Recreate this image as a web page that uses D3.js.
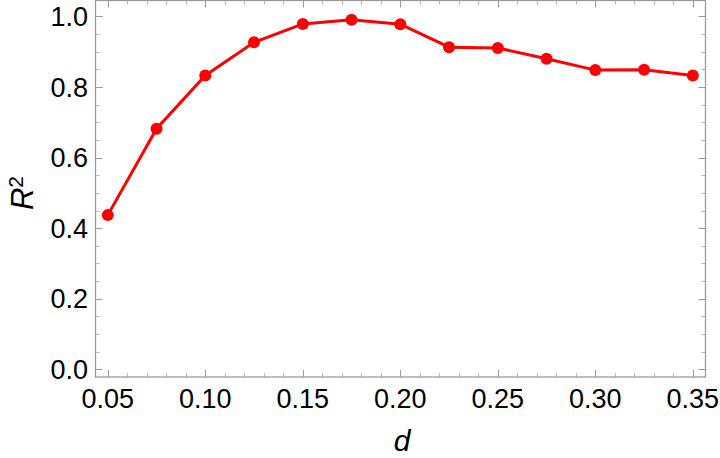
<!DOCTYPE html>
<html>
<head>
<meta charset="utf-8">
<script src="https://cdn.jsdelivr.net/npm/d3@7"></script>
<style>
  body { margin: 0; background: #fff; }
  svg { display: block; font-family: "Liberation Sans", Arial, sans-serif; }
</style>
</head>
<body>
<div id="chart"></div>
<script>
// data
var dValues = [0.05, 0.075, 0.10, 0.125, 0.15, 0.175, 0.20, 0.225, 0.25, 0.275, 0.30, 0.325, 0.35];
var r2Values = [0.437, 0.682, 0.833, 0.927, 0.979, 0.991, 0.978, 0.913, 0.911, 0.880, 0.848, 0.849, 0.833];
var xTicks = [0.05, 0.10, 0.15, 0.20, 0.25, 0.30, 0.35];
var yTicks = [0.0, 0.2, 0.4, 0.6, 0.8, 1.0];

var width = 720, height = 458;
// plot box (note: "top" is a reserved window global, so use prefixed names)
var plotLeft = 95.5, plotRight = 705.5, plotTop = 0.5, plotBottom = 377;

var svg = d3.select("#chart").append("svg")
  .attr("width", width)
  .attr("height", height);

var x = d3.scaleLinear().domain([0.0437, 0.3565]).range([plotLeft, plotRight]);
var y = d3.scaleLinear().domain([-0.0218, 1.0453]).range([plotBottom, plotTop]);

var frameColor = "#9a9a9a";

// minor ticks
var xMinor = d3.range(0.04, 0.36, 0.01).filter(function(v) {
  return v > 0.0437 && v < 0.3565;
});
var yMinor = d3.range(0, 1.05, 0.05);

var tickG = svg.append("g").attr("stroke", frameColor).attr("stroke-width", 1);

function xTickMarks(vals, len, col) {
  vals.forEach(function(v) {
    var px = Math.round(x(v)) + 0.5;
    tickG.append("line").attr("x1", px).attr("x2", px)
      .attr("y1", plotBottom).attr("y2", plotBottom - len).attr("stroke", col);
    tickG.append("line").attr("x1", px).attr("x2", px)
      .attr("y1", plotTop).attr("y2", plotTop + len).attr("stroke", col);
  });
}
function yTickMarks(vals, len, col) {
  vals.forEach(function(v) {
    var py = Math.round(y(v)) + 0.5;
    tickG.append("line").attr("y1", py).attr("y2", py)
      .attr("x1", plotLeft).attr("x2", plotLeft + len).attr("stroke", col);
    tickG.append("line").attr("y1", py).attr("y2", py)
      .attr("x1", plotRight).attr("x2", plotRight - len).attr("stroke", col);
  });
}
xTickMarks(xMinor, 4, "#bbbbbb");
yTickMarks(yMinor, 4, "#bbbbbb");
xTickMarks(xTicks, 7, frameColor);
yTickMarks(yTicks, 7, frameColor);

// frame
svg.append("rect")
  .attr("x", plotLeft).attr("y", plotTop)
  .attr("width", plotRight - plotLeft).attr("height", plotBottom - plotTop)
  .attr("fill", "none").attr("stroke", frameColor).attr("stroke-width", 1.3);

// tick labels
svg.append("g").selectAll("text")
  .data(xTicks).enter().append("text")
  .attr("x", function(d) { return x(d); })
  .attr("y", 408)
  .attr("text-anchor", "middle")
  .attr("font-size", 27)
  .text(function(d) { return d3.format(".2f")(d); });

svg.append("g").selectAll("text")
  .data(yTicks).enter().append("text")
  .attr("x", 88)
  .attr("y", function(d) { return y(d); })
  .attr("dy", "0.36em")
  .attr("text-anchor", "end")
  .attr("font-size", 27)
  .text(function(d) { return d3.format(".1f")(d); });

// axis titles
svg.append("text")
  .attr("x", 402).attr("y", 451)
  .attr("text-anchor", "middle")
  .attr("font-size", 30)
  .attr("font-style", "italic")
  .text("d");

var yl = svg.append("text")
  .attr("transform", "translate(33,193) rotate(-90)")
  .attr("text-anchor", "middle")
  .attr("font-size", 31);
yl.append("tspan").attr("font-style", "italic").text("R");
yl.append("tspan").attr("font-size", 21).attr("dy", -10).text("2");

// series
var pts = dValues.map(function(d, i) { return [d, r2Values[i]]; });
var line = d3.line()
  .x(function(p) { return x(p[0]); })
  .y(function(p) { return y(p[1]); });

svg.append("path")
  .datum(pts)
  .attr("d", line)
  .attr("fill", "none")
  .attr("stroke", "#ff0000")
  .attr("stroke-width", 3);

svg.append("g").selectAll("circle")
  .data(pts).enter().append("circle")
  .attr("cx", function(p) { return x(p[0]); })
  .attr("cy", function(p) { return y(p[1]); })
  .attr("r", 6)
  .attr("fill", "#ff0000");
</script>
</body>
</html>
